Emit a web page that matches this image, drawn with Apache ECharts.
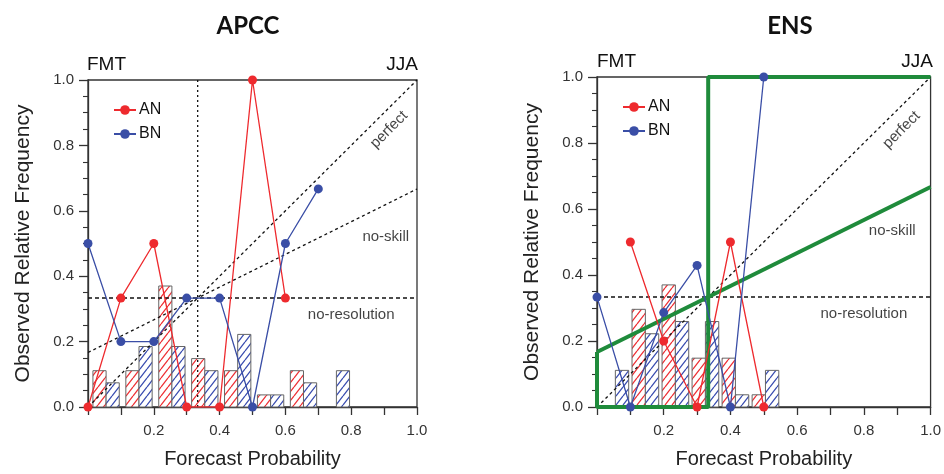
<!DOCTYPE html>
<html>
<head>
<meta charset="utf-8">
<script src="https://cdn.jsdelivr.net/npm/echarts@6/dist/echarts.min.js"></script>
<style>
  html, body { margin: 0; padding: 0; background: #fff; }
  #chart { width: 944px; height: 474px; }
</style>
</head>
<body>
<div id="chart"></div>
<script>
// Reliability diagrams, FMT-issued forecasts for JJA.
// Forecast probabilities at which observed frequencies are plotted
const apccProbs = [0.0, 0.1, 0.2, 0.3, 0.4, 0.5, 0.6, 0.7];
const ensProbs = [0.0, 0.1, 0.2, 0.3, 0.4, 0.5];

// Observed relative frequency (null = no forecasts in that bin)
const apccAnObs = [0, 0.333, 0.5, 0, 0, 1.0, 0.333, null];
const apccBnObs = [0.5, 0.2, 0.2, 0.333, 0.333, 0, 0.5, 0.667];
const ensAnObs = [null, 0.5, 0.2, 0, 0.5, 0];
const ensBnObs = [0.333, 0, 0.286, 0.429, 0, 1.0];

// Forecast frequency histograms (share of forecasts per bin)
const apccBinStarts = [0.0, 0.1, 0.2, 0.3, 0.4, 0.5, 0.6, 0.7];
const apccAnHist = [0.111, 0.111, 0.370, 0.148, 0.111, 0.037, 0.111, 0];
const apccBnHist = [0.074, 0.185, 0.185, 0.111, 0.222, 0.037, 0.074, 0.111];
const ensBinStarts = [0.0, 0.09, 0.18, 0.27, 0.36, 0.45];
const ensAnHist = [0, 0.296, 0.370, 0.148, 0.148, 0.037];
const ensBnHist = [0.111, 0.222, 0.259, 0.259, 0.037, 0.111];

// Climatological frequency of each tercile category
const climo = 1 / 3;

const RED = '#ee2a2e';
const BLUE = '#3a4ea6';
const GREEN = '#1f8b3b';

// Diagonal hatch tile: white ground with one slanted stroke
function hatch(color) {
  const w = 7, h = 9;
  const c = document.createElement('canvas');
  c.width = w; c.height = h;
  const g = c.getContext('2d');
  g.fillStyle = '#fff';
  g.fillRect(0, 0, w, h);
  g.strokeStyle = color;
  g.lineWidth = 1.3;
  g.beginPath();
  g.moveTo(0, h); g.lineTo(w, 0);
  g.moveTo(-w, h); g.lineTo(0, 0);
  g.moveTo(w, h); g.lineTo(2 * w, 0);
  g.stroke();
  return c;
}
const redHatch = { image: hatch('#ee3035'), repeat: 'repeat' };
const blueHatch = { image: hatch('#3a4db0'), repeat: 'repeat' };

function histData(starts, vals, offset) {
  return starts.map((b, i) => [b + offset, b + offset + 0.04, vals[i]]);
}
function pairs(xs, ys) {
  const out = [];
  xs.forEach((x, i) => { if (ys[i] !== null && ys[i] !== undefined) out.push([x, ys[i]]); });
  return out;
}

function histSeries(name, idx, data, fill) {
  return {
    name: name, type: 'custom', xAxisIndex: idx, yAxisIndex: idx, z: 1,
    encode: { x: [0, 1], y: 2 },
    data: data,
    renderItem: function (params, api) {
      const v = api.value(2);
      if (!v) return null;
      const p0 = api.coord([api.value(0), v]);
      const p1 = api.coord([api.value(1), 0]);
      return {
        type: 'rect',
        shape: { x: p0[0], y: p0[1], width: p1[0] - p0[0], height: p1[1] - p0[1] },
        style: { fill: fill, stroke: '#666', lineWidth: 1 }
      };
    }
  };
}
function refLine(idx, data, dash, color, width) {
  return {
    type: 'line', xAxisIndex: idx, yAxisIndex: idx, z: 2, silent: true,
    symbol: 'none', data: data, clip: false,
    lineStyle: { color: color || '#111', width: width || 1.3, type: dash || [3, 3] }
  };
}
function obsLine(name, idx, data, color) {
  return {
    name: name, type: 'line', xAxisIndex: idx, yAxisIndex: idx, z: 5,
    data: data, symbol: 'circle', symbolSize: 9, showAllSymbol: true,
    itemStyle: { color: color }, lineStyle: { color: color, width: 1.3 }
  };
}
function textLabel(idx, x, y, text, rotate) {
  return {
    type: 'scatter', xAxisIndex: idx, yAxisIndex: idx, z: 3, silent: true,
    symbolSize: 0, data: [[x, y]],
    label: {
      show: true, position: 'inside', formatter: text, rotate: rotate || 0,
      fontFamily: 'Liberation Sans', fontSize: 15, color: '#111'
    }
  };
}

function xAxisCfg(idx) {
  return {
    type: 'value', gridIndex: idx, min: 0, max: 1, interval: 0.1,
    name: 'Forecast Probability', nameLocation: 'middle', nameGap: 42,
    nameTextStyle: { fontFamily: 'Liberation Sans', fontSize: 20, color: '#222' },
    axisLine: { show: true, lineStyle: { color: '#333', width: 1.3 } },
    axisTick: { show: true, length: 8, lineStyle: { color: '#333', width: 1.3 } },
    axisLabel: {
      margin: 16, fontFamily: 'Liberation Sans', fontSize: 15, color: '#333',
      formatter: function (v) {
        const k = Math.round(v * 10);
        return (k > 0 && k % 2 === 0) ? v.toFixed(1) : '';
      }
    },
    splitLine: { show: false }
  };
}
function yAxisCfg(idx) {
  return {
    type: 'value', gridIndex: idx, min: 0, max: 1, interval: 0.2,
    name: 'Observed Relative Frequency', nameLocation: 'middle', nameGap: 54,
    nameTextStyle: { fontFamily: 'Liberation Sans', fontSize: 21, color: '#222' },
    axisLine: { show: true, lineStyle: { color: '#333', width: 1.3 } },
    axisTick: { show: true, length: 9, lineStyle: { color: '#333', width: 1.3 } },
    minorTick: { show: true, splitNumber: 4, length: 5, lineStyle: { color: '#333', width: 1.1 } },
    axisLabel: {
      margin: 14, fontFamily: 'Liberation Sans', fontSize: 15, color: '#333',
      formatter: function (v) { return v.toFixed(1); }
    },
    splitLine: { show: false }
  };
}
function legendCfg(left, top) {
  return {
    data: ['AN', 'BN'], orient: 'vertical', left: left, top: top,
    itemWidth: 22, itemHeight: 12, itemGap: 8, selectedMode: false,
    textStyle: { fontFamily: 'Liberation Sans', fontSize: 16, color: '#111', padding: [0, 0, 0, -2] }
  };
}
function headText(x, y, text, align, font) {
  return {
    type: 'text', x: x, y: y,
    style: { text: text, fill: '#111', font: font, textAlign: align, textVerticalAlign: 'middle' }
  };
}

const chart = echarts.init(document.getElementById('chart'), null, { renderer: 'canvas' });
const labelFont = '19px "Liberation Sans"';
chart.setOption({
  animation: false,
  backgroundColor: '#fff',
  grid: [
    { left: 88, top: 80, width: 329, height: 329, show: true, borderColor: '#333', borderWidth: 1.3, backgroundColor: 'transparent' },
    { left: 597, top: 77, width: 335, height: 333, show: true, borderColor: '#333', borderWidth: 1.3, backgroundColor: 'transparent' }
  ],
  xAxis: [xAxisCfg(0), xAxisCfg(1)],
  yAxis: [yAxisCfg(0), yAxisCfg(1)],
  legend: [legendCfg(108, 97), legendCfg(617, 94)],
  graphic: [
    headText(248, 26, 'APCC', 'center', 'bold 24px Lato'),
    headText(790, 26, 'ENS', 'center', 'bold 24px Lato'),
    headText(87, 65, 'FMT', 'left', labelFont),
    headText(418, 65, 'JJA', 'right', labelFont),
    headText(597, 62, 'FMT', 'left', labelFont),
    headText(933, 62, 'JJA', 'right', labelFont)
  ],
  series: [
    // APCC panel
    histSeries('AN forecasts', 0, histData(apccBinStarts, apccAnHist, 0.015), redHatch),
    histSeries('BN forecasts', 0, histData(apccBinStarts, apccBnHist, 0.055), blueHatch),
    refLine(0, [[0, 0], [1, 1]]),
    refLine(0, [[0, climo / 2], [1, (1 + climo) / 2]]),
    refLine(0, [[0, climo], [1, climo]], [4, 3]),
    refLine(0, [[climo, 0], [climo, 1]], [2, 3]),
    textLabel(0, 0.915, 0.848, 'perfect', 45),
    textLabel(0, 0.905, 0.52, 'no-skill'),
    textLabel(0, 0.80, 0.283, 'no-resolution'),
    obsLine('AN', 0, pairs(apccProbs, apccAnObs), RED),
    obsLine('BN', 0, pairs(apccProbs, apccBnObs), BLUE),
    // ENS panel
    histSeries('AN forecasts', 1, histData(ensBinStarts, ensAnHist, 0.015), redHatch),
    histSeries('BN forecasts', 1, histData(ensBinStarts, ensBnHist, 0.055), blueHatch),
    refLine(1, [[0, 0], [1, 1]], [3, 3]),
    refLine(1, [[0, climo], [1, climo]], [4, 3]),
    refLine(1, [[0, climo / 2], [0, 0], [climo, 0], [climo, 1], [1, 1]], 'solid', GREEN, 4),
    refLine(1, [[0, climo / 2], [1, (1 + climo) / 2]], 'solid', GREEN, 4),
    textLabel(1, 0.913, 0.84, 'perfect', 45),
    textLabel(1, 0.885, 0.533, 'no-skill'),
    textLabel(1, 0.80, 0.281, 'no-resolution'),
    obsLine('AN', 1, pairs(ensProbs, ensAnObs), RED),
    obsLine('BN', 1, pairs(ensProbs, ensBnObs), BLUE)
  ]
});
</script>
</body>
</html>
